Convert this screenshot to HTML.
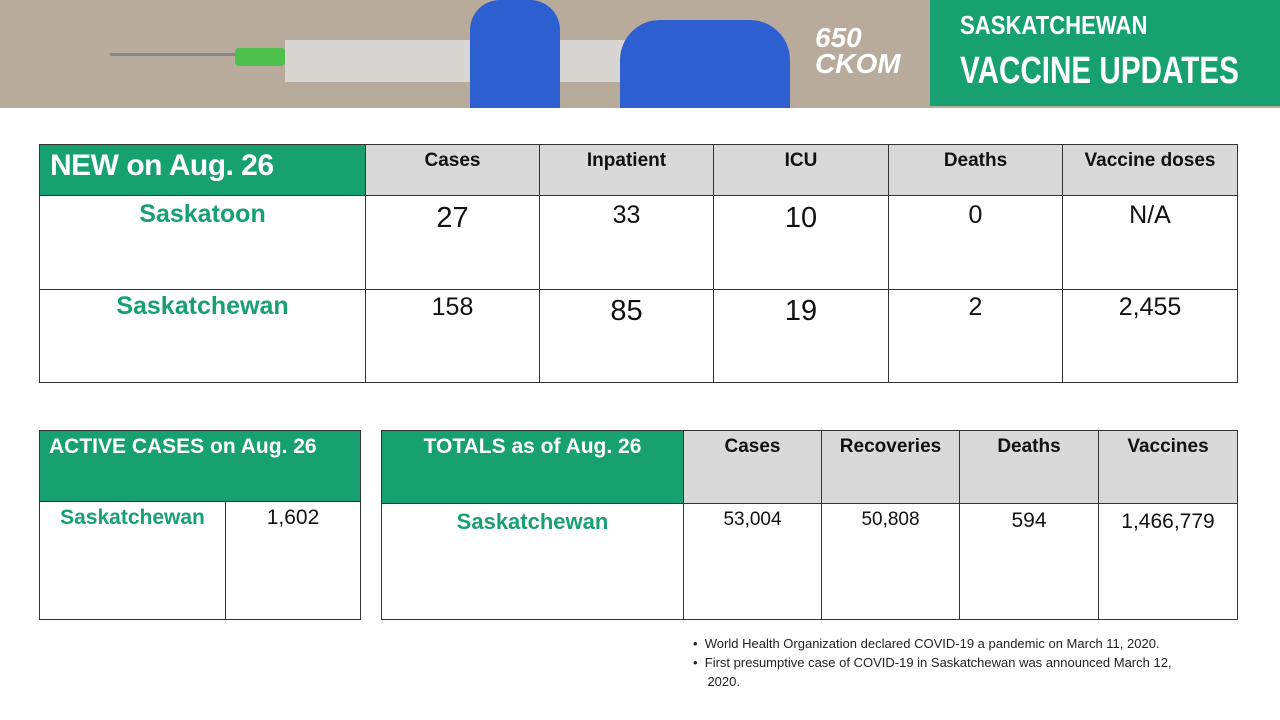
<!DOCTYPE html><html><head><style>
body{margin:0;width:1280px;height:720px;background:#fff;position:relative;overflow:hidden;font-family:"Liberation Sans",sans-serif}
.a{position:absolute;box-sizing:border-box;white-space:nowrap}
.c{position:absolute;box-sizing:border-box;border:1px solid #333;text-align:center;font-size:21px;color:#111;white-space:nowrap}
.g{background:#17a170;color:#fff;font-weight:bold}
.h{background:#d9d9d9;font-weight:bold;font-size:19px;padding-top:5px}
.n{color:#17a170;font-weight:bold;font-size:25px}
</style></head><body>
<div class="a" style="left:0;top:0;width:1280px;height:108px;background:#b9ab9b"></div>
<div class="a" style="left:110px;top:53px;width:160px;height:3px;background:#888"></div>
<div class="a" style="left:235px;top:48px;width:50px;height:18px;background:#4cc04a;border-radius:4px"></div>
<div class="a" style="left:285px;top:40px;width:350px;height:42px;background:#ddd;opacity:.85"></div>
<div class="a" style="left:470px;top:0;width:90px;height:108px;background:#2d5fd0;border-radius:30px 30px 0 0"></div>
<div class="a" style="left:620px;top:20px;width:170px;height:88px;background:#2d5fd0;border-radius:40px 40px 0 0"></div>
<div class="a" style="left:815px;top:25px;font:italic bold 28px 'Liberation Sans';color:#fff;line-height:26px">650<br>CKOM</div>
<div class="a" style="left:930px;top:0;width:350px;height:106px;background:#17a170"></div>
<div class="a" style="left:960px;top:10px;color:#fff;font-weight:bold;font-size:26px;transform:scaleX(.85);transform-origin:left">SASKATCHEWAN</div>
<div class="a" style="left:960px;top:50px;color:#fff;font-weight:bold;font-size:38px;transform:scaleX(.78);transform-origin:left">VACCINE UPDATES</div>

<div class="c g" style="left:39px;top:144px;width:327px;height:52px;font-size:30px;text-align:left;padding:4px 10px;letter-spacing:-0.5px">NEW on Aug. 26</div>
<div class="c h" style="left:365px;top:144px;width:175px;height:52px">Cases</div>
<div class="c h" style="left:539px;top:144px;width:175px;height:52px">Inpatient</div>
<div class="c h" style="left:713px;top:144px;width:176px;height:52px">ICU</div>
<div class="c h" style="left:888px;top:144px;width:175px;height:52px">Deaths</div>
<div class="c h" style="left:1062px;top:144px;width:176px;height:52px">Vaccine doses</div>

<div class="c n" style="left:39px;top:195px;width:327px;height:95px;padding-top:4px">Saskatoon</div>
<div class="c" style="left:365px;top:195px;width:175px;height:95px;font-size:29px;padding-top:6px">27</div>
<div class="c" style="left:539px;top:195px;width:175px;height:95px;font-size:25px;padding-top:5px">33</div>
<div class="c" style="left:713px;top:195px;width:176px;height:95px;font-size:29px;padding-top:6px">10</div>
<div class="c" style="left:888px;top:195px;width:175px;height:95px;font-size:25px;padding-top:5px">0</div>
<div class="c" style="left:1062px;top:195px;width:176px;height:95px;font-size:25px;padding-top:5px">N/A</div>

<div class="c n" style="left:39px;top:289px;width:327px;height:94px;padding-top:2px">Saskatchewan</div>
<div class="c" style="left:365px;top:289px;width:175px;height:94px;font-size:25px;padding-top:3px">158</div>
<div class="c" style="left:539px;top:289px;width:175px;height:94px;font-size:29px;padding-top:5px">85</div>
<div class="c" style="left:713px;top:289px;width:176px;height:94px;font-size:29px;padding-top:5px">19</div>
<div class="c" style="left:888px;top:289px;width:175px;height:94px;font-size:25px;padding-top:3px">2</div>
<div class="c" style="left:1062px;top:289px;width:176px;height:94px;font-size:25px;padding-top:3px">2,455</div>

<div class="c g" style="left:39px;top:430px;width:322px;height:72px;text-align:left;padding:4px 9px;font-size:21px">ACTIVE CASES on Aug. 26</div>
<div class="c n" style="left:39px;top:501px;width:187px;height:119px;font-size:21px;padding-top:4px">Saskatchewan</div>
<div class="c" style="left:225px;top:501px;width:136px;height:119px;padding-top:4px">1,602</div>

<div class="c g" style="left:381px;top:430px;width:303px;height:74px;padding-top:4px">TOTALS as of Aug. 26</div>
<div class="c h" style="left:683px;top:430px;width:139px;height:74px">Cases</div>
<div class="c h" style="left:821px;top:430px;width:139px;height:74px">Recoveries</div>
<div class="c h" style="left:959px;top:430px;width:140px;height:74px">Deaths</div>
<div class="c h" style="left:1098px;top:430px;width:140px;height:74px">Vaccines</div>
<div class="c n" style="left:381px;top:503px;width:303px;height:117px;font-size:22px;padding-top:5px">Saskatchewan</div>
<div class="c" style="left:683px;top:503px;width:139px;height:117px;font-size:19px;padding-top:5px">53,004</div>
<div class="c" style="left:821px;top:503px;width:139px;height:117px;font-size:19px;padding-top:5px">50,808</div>
<div class="c" style="left:959px;top:503px;width:140px;height:117px;font-size:21px;padding-top:5px">594</div>
<div class="c" style="left:1098px;top:503px;width:140px;height:117px;font-size:21px;padding-top:6px">1,466,779</div>

<div class="a" style="left:693px;top:634px;font-size:13px;color:#222;line-height:19px;width:550px;white-space:normal">
<div>•&nbsp;&nbsp;World Health Organization declared COVID-19 a pandemic on March 11, 2020.</div>
<div>•&nbsp;&nbsp;First presumptive case of COVID-19 in Saskatchewan was announced March 12,<br>&nbsp;&nbsp;&nbsp;&nbsp;2020.</div>
</div>
</body></html>
